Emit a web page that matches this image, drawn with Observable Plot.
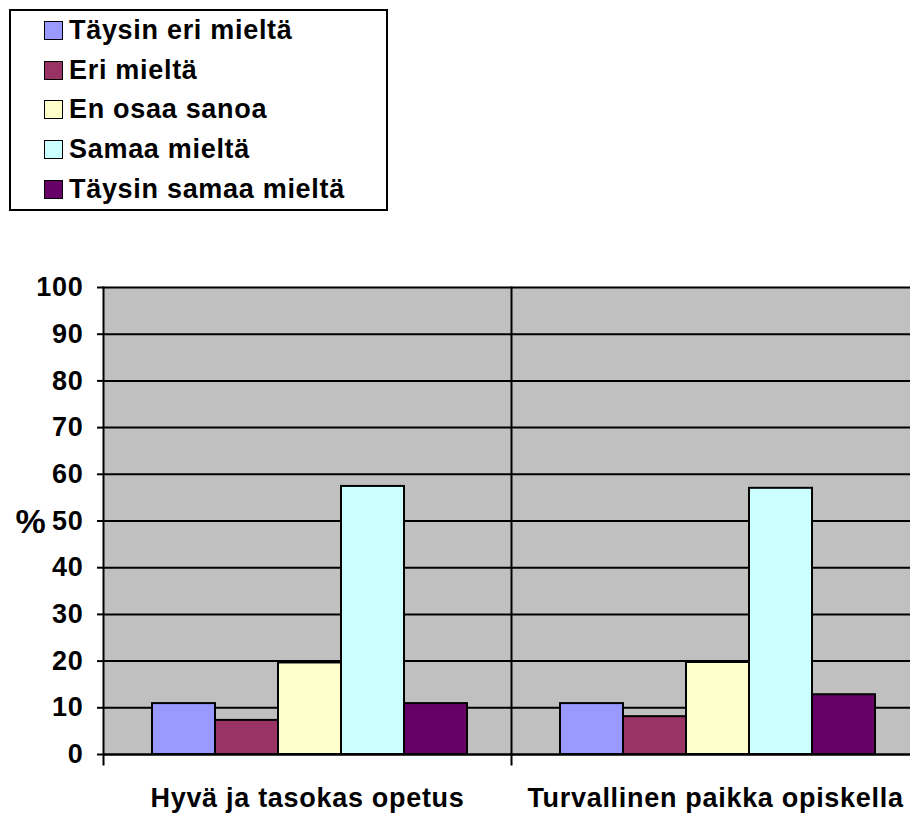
<!DOCTYPE html>
<html>
<head>
<meta charset="utf-8">
<script src="https://cdn.jsdelivr.net/npm/d3@7"></script>
<script src="https://cdn.jsdelivr.net/npm/@observablehq/plot@0.6"></script>
<style>
  html, body { margin: 0; padding: 0; background: white; overflow: hidden; width: 910px; height: 813px; }
  #legendArea { position: relative; height: 230px; }
  #legend { position: absolute; left: 9px; top: 9px; width: 375px; border: 2px solid black; padding: 0;
    font-family: Arial, "Liberation Sans", sans-serif; font-weight: bold; font-size: 27px; letter-spacing: 0.7px; }
  .row { height: 39.6px; display: flex; align-items: center; }
  .sw { width: 17px; height: 17px; border: 1.5px solid black; margin-left: 33px; margin-right: 6px; box-sizing: content-box; }
</style>
</head>
<body>
<div id="legendArea"><div id="legend"></div></div>
<div id="chart"></div>
<script>
const groups = ["Hyvä ja tasokas opetus", "Turvallinen paikka opiskella"];
const series = ["Täysin eri mieltä", "Eri mieltä", "En osaa sanoa", "Samaa mieltä", "Täysin samaa mieltä"];
const colors = ["#9999FF", "#993366", "#FFFFCC", "#CCFFFF", "#660066"];
const valuesHyva = [10.9, 7.3, 19.6, 57.4, 10.9];
const valuesTurvallinen = [10.9, 8.1, 19.7, 57.0, 12.8];
const yTicks = [0, 10, 20, 30, 40, 50, 60, 70, 80, 90, 100];
const yLabel = "%";

const allValues = [valuesHyva, valuesTurvallinen];
const data = groups.flatMap((g, gi) => series.map((s, si) => ({group: g, series: s, value: allValues[gi][si]})));

// Legend
const legend = document.getElementById("legend");
series.forEach((s, i) => {
  const row = document.createElement("div");
  row.className = "row";
  const sw = document.createElement("div");
  sw.className = "sw";
  sw.style.background = colors[i];
  const t = document.createElement("span");
  t.textContent = s;
  row.appendChild(sw);
  row.appendChild(t);
  legend.appendChild(row);
});

const chart = Plot.plot({
  width: 919,
  height: 583,
  marginTop: 57,
  marginBottom: 59,
  marginLeft: 103,
  marginRight: 0,
  style: {
    fontFamily: "Arial, 'Liberation Sans', sans-serif",
    fontWeight: "bold",
    fontSize: "27px",
    letterSpacing: "0.7px",
    color: "black",
    maxWidth: "none",
    overflow: "visible"
  },
  fx: {domain: groups, padding: 0, label: null},
  x: {domain: series, paddingInner: 0, paddingOuter: 0.72, align: 0.53, axis: null},
  y: {domain: [0, 100], ticks: yTicks, label: null},
  color: {domain: series, range: colors},
  marks: [
    Plot.frame({fill: "#C0C0C0"}),
    Plot.gridY(yTicks, {stroke: "black", strokeOpacity: 1, strokeWidth: 2}),
    Plot.barY(data, {fx: "group", x: "series", y: "value", fill: "series", stroke: "black", strokeWidth: 2}),
    Plot.frame({anchor: "left", stroke: "black", strokeWidth: 2, insetBottom: -10}),
    Plot.ruleY([0], {stroke: "black", strokeWidth: 2}),
    Plot.axisY(yTicks, {tickSize: 6, tickPadding: 14, strokeWidth: 2, label: null, fontSize: 27}),
    Plot.axisFx({anchor: "bottom", tickSize: 0, tickPadding: 33, label: null, fontSize: 27})
  ]
});

d3.select(chart).append("text")
  .attr("x", 31)
  .attr("y", 291)
  .attr("text-anchor", "middle")
  .attr("dominant-baseline", "central")
  .attr("font-size", 34)
  .attr("font-weight", "bold")
  .attr("fill", "black")
  .text(yLabel);

document.getElementById("chart").appendChild(chart);
</script>
</body>
</html>
